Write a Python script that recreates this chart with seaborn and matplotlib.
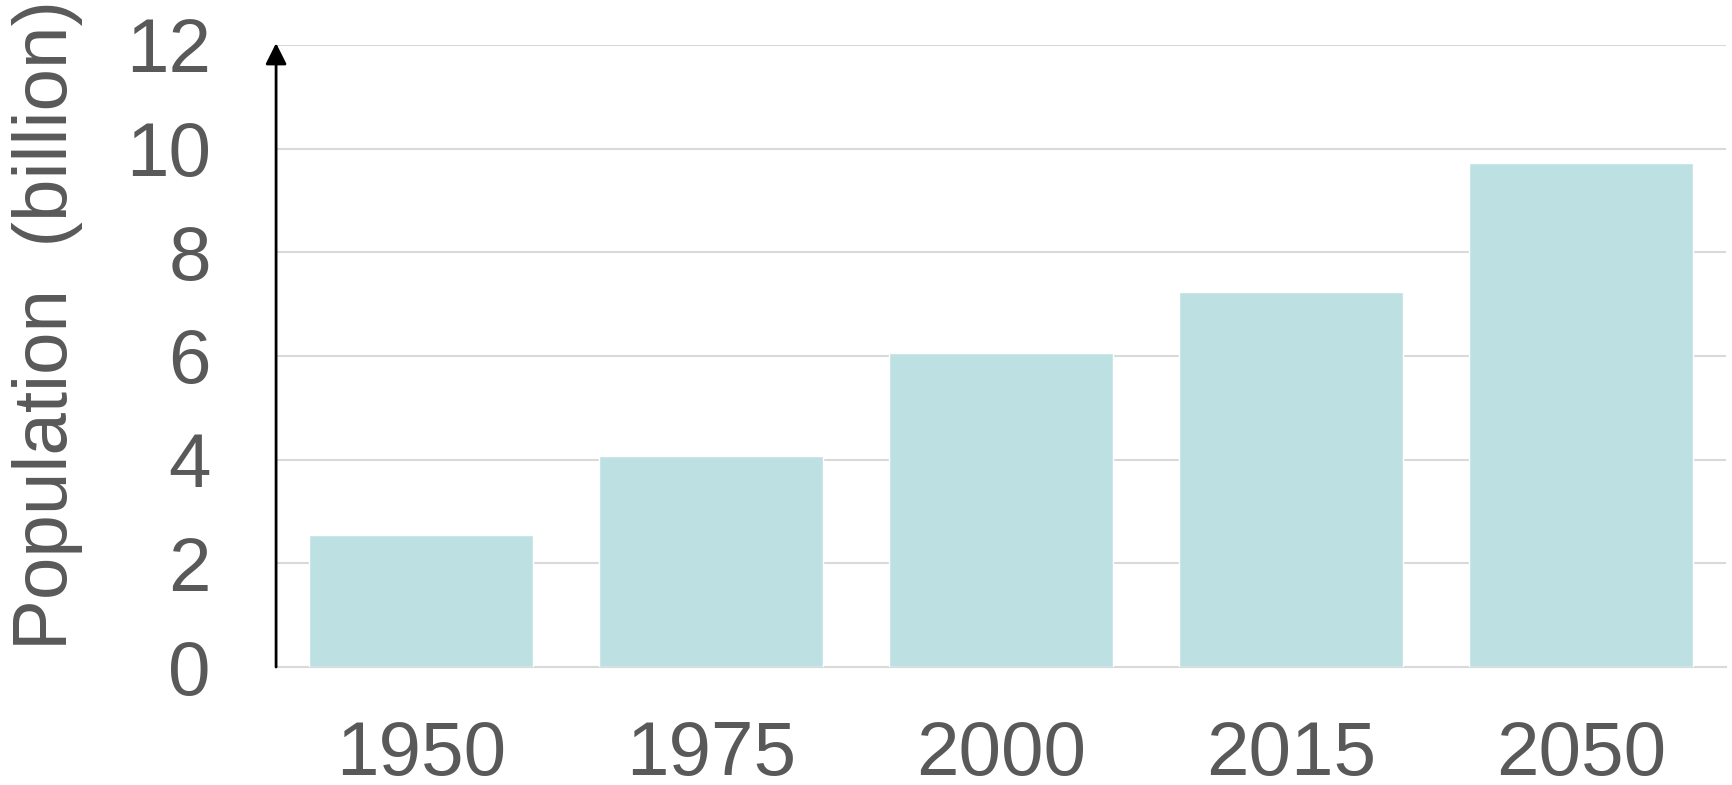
import matplotlib
matplotlib.use("Agg")
import matplotlib.pyplot as plt
import seaborn as sns
import pandas as pd

years = ["1950", "1975", "2000", "2015", "2050"]
population = [2.55, 4.07, 6.06, 7.24, 9.73]
y_ticks = [0, 2, 4, 6, 8, 10, 12]

sns.set_style("white")
plt.rcParams["font.family"] = ["Liberation Sans", "DejaVu Sans"]

df = pd.DataFrame({"year": years, "population": population})

fig = plt.figure(figsize=(17.32, 7.85), dpi=100)
ax = fig.add_axes([0.1594, 0.1503, 0.8371, 0.7924])

sns.barplot(data=df, x="year", y="population", color="#bde0e3",
            saturation=1, width=0.772, ax=ax, zorder=3)

ax.set_xlim(-0.5, 4.5)
ax.set_ylim(0, 12)
ax.set_yticks(y_ticks)
ax.yaxis.grid(True, color="#d9d9d9", lw=1.5, zorder=0)
ax.set_axisbelow(True)

for s in ["top", "right", "left"]:
    ax.spines[s].set_visible(False)
ax.spines["bottom"].set_color("#d9d9d9")
ax.spines["bottom"].set_linewidth(1.5)

ax.tick_params(axis="both", length=0, labelsize=55, labelcolor="#595959")
ax.tick_params(axis="y", pad=47)
ax.tick_params(axis="x", pad=38)

ax.set_xlabel("")
ax.set_ylabel("Population  (billion)", fontsize=55, color="#595959")
ax.yaxis.set_label_coords(-0.133, 0.55)

# axis with arrowhead
ax.annotate("", xy=(0, 1.003), xytext=(0, 0), xycoords="axes fraction",
            arrowprops=dict(arrowstyle="-|>", color="black", lw=2,
                            mutation_scale=32, shrinkA=0, shrinkB=0),
            annotation_clip=False, zorder=5)

fig.savefig("out.png", dpi=100)
